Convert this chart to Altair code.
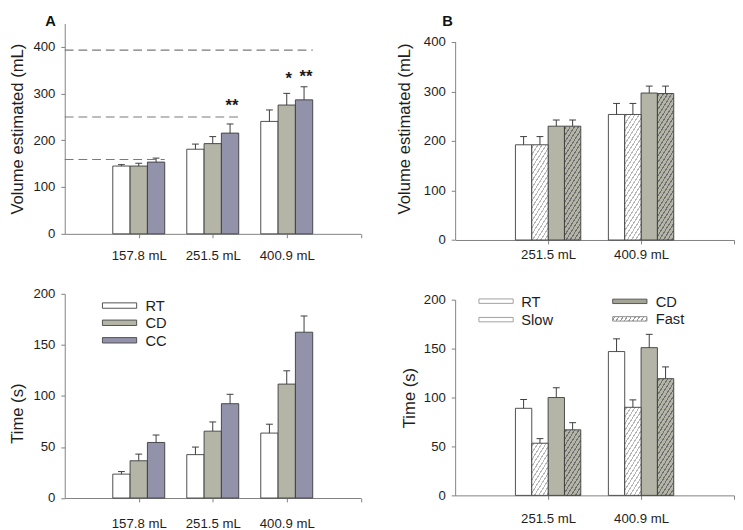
import math
import altair as alt
import pandas as pd

# ----------------------------- data -----------------------------
groups_A = ["157.8 mL", "251.5 mL", "400.9 mL"]
series_A = ["RT", "CD", "CC"]
vol_A = {"RT": [145.0, 181.0, 240.5], "CD": [145.0, 193.0, 275.5], "CC": [153.5, 215.5, 286.6]}
vol_A_err = {"RT": [3.0, 11.0, 24.5], "CD": [6.0, 15.0, 25.0], "CC": [8.5, 19.5, 28.0]}
ref_A = [159.0, 250.0, 393.0]
sig_text = ["**", "*", "**"]
sig_group = [2, 3, 3]
sig_series = ["CC", "CD", "CC"]
sig_y = [282.0, 340.5, 344.5]
time_A = {"RT": [23.4, 42.5, 63.6], "CD": [36.5, 65.5, 111.6], "CC": [54.4, 92.4, 162.4]}
time_A_err = {"RT": [2.5, 7.4, 8.7], "CD": [6.5, 9.0, 13.0], "CC": [7.3, 9.2, 15.9]}

groups_B = ["251.5 mL", "400.9 mL"]
series_B = ["RT", "Slow", "CD", "Fast"]
vol_B = {"RT": [192.4, 253.7], "Slow": [192.4, 253.7], "CD": [230.0, 297.0], "Fast": [230.0, 296.0]}
vol_B_err = {"RT": [16.6, 22.3], "Slow": [16.6, 22.3], "CD": [12.5, 14.0], "Fast": [12.5, 15.0]}
time_B = {"RT": [89.0, 147.0], "Slow": [53.3, 90.0], "CD": [100.0, 151.0], "Fast": [67.0, 119.3]}
time_B_err = {"RT": [9.0, 13.0], "Slow": [4.7, 7.6], "CD": [10.0, 13.6], "Fast": [7.3, 12.0]}

yticks_vol = [0, 100, 200, 300, 400]
yticks_time = [0, 50, 100, 150, 200]

# ----------------------------- style / layout -----------------------------
FONT = "Liberation Sans"
TXT = "#1e1e1e"
AXC = "#808080"
BAR_STROKE = "#3a3a3a"
ERR_C = "#3a3a3a"
CAP = 3.5

W_A, W_B = 302.5, 285.0
H_AT, H_AB, H_BB = 215.0, 208.7, 200.0
H_BT_AXIS = 202.3          # length of the B-top axis (0..400)
H_BT = H_BT_AXIS + 19.0    # plot box, top-aligned with panel A
XMAX_A, XMAX_B = 4, 3
BAR_A, BAR_B = 17.7, 16.7

fills_A = {"RT": "#ffffff", "CD": "#b4b5a7", "CC": "#9292aa"}
fills_B = {"RT": "#ffffff", "Slow": "#ffffff", "CD": "#b4b5a7", "Fast": "#b4b5a7"}
hatch_B = {"Slow": ("#ffffff", "#b8b8b8"), "Fast": ("#b4b5a7", "#707070")}


def hatch(w, h, bg, fg, period=3.6, lw=1.1, ang=58.0):
    a = math.radians(ang)
    gx, gy = w * math.sin(a), h * math.cos(a)
    P = gx + gy
    c = P / (gx * gx + gy * gy)
    stops = [{"offset": 0.0, "color": bg}]
    pos = 1.2
    while pos + lw < P:
        s0, s1 = round(pos / P, 5), round((pos + lw) / P, 5)
        stops += [{"offset": s0, "color": bg}, {"offset": s0, "color": fg},
                  {"offset": s1, "color": fg}, {"offset": s1, "color": bg}]
        pos += period
    stops.append({"offset": 1.0, "color": bg})
    return {"gradient": "linear", "x1": 0, "y1": 0, "x2": round(c * gx, 5),
            "y2": round(c * gy, 5), "stops": stops}


def xaxis(groups, xmax, pad):
    expr = "''"
    for i in range(len(groups), 0, -1):
        expr = f"datum.value == {i} ? '{groups[i-1]}' : ({expr})"
    return alt.Axis(values=list(range(1, xmax + 1)), labelExpr=expr, title="", grid=False,
                    tickSize=4, labelPadding=pad, labelFont=FONT, labelFontSize=13.5,
                    labelColor=TXT, domainColor=AXC, tickColor=AXC, labelOverlap=False,
                    labelFlush=False)


def yaxis(title, ticks, tpad, title_y=None, domain=True):
    kw = dict(values=ticks, title=title, grid=False, tickSize=4, labelPadding=6,
              titlePadding=tpad, titleFontSize=17, titleFontWeight="normal", titleFont=FONT,
              titleColor=TXT, labelFont=FONT, labelFontSize=13.5, labelColor=TXT,
              domainColor=AXC, tickColor=AXC, domain=domain)
    if title_y is not None:
        kw["titleY"] = title_y
    return alt.Axis(**kw)


def panel(groups, series, vals, errs, W, H, xmax, ymax, yticks, ytitle, tpad, xlpad,
          bar_px, fills, hatches, title_y=None, axis_top=None, pre=(), post=()):
    ppu = W / xmax
    bw = bar_px / ppu
    ky = H / ymax
    n = len(series)
    rows = []
    for gi, g in enumerate(groups, start=1):
        for si, s in enumerate(series):
            v = vals[s][gi - 1]
            e = errs[s][gi - 1]
            xc = gi + (si - (n - 1) / 2) * bw
            rows.append(dict(grp=g, series=s, value=v, top=v + e, zero=0.0,
                             x0=xc - bw / 2, x1=xc + bw / 2, xc=xc,
                             c0=xc - CAP / ppu, c1=xc + CAP / ppu))
    df = pd.DataFrame(rows)
    xs = alt.Scale(domain=[0, xmax], nice=False, zero=False)
    ys = alt.Scale(domain=[0, ymax], nice=False)
    xax = xaxis(groups, xmax, xlpad)
    yax = yaxis(ytitle, yticks, tpad, title_y, domain=axis_top is None)
    ctx = dict(xs=xs, ys=ys, xax=xax, yax=yax, bw=bw, ppu=ppu)
    layers = [f(ctx) for f in pre]
    if axis_top is not None:
        layers.append(
            alt.Chart(pd.DataFrame({"a": [0.0], "b": [float(axis_top)]})).mark_rule(
                color=AXC, strokeWidth=1).encode(
                x=alt.value(0.5), y=alt.Y("a:Q", scale=ys, axis=yax), y2="b:Q"))
    plain = df[~df["series"].isin(list(hatches))]
    layers.append(
        alt.Chart(plain).mark_rect(stroke=BAR_STROKE, strokeWidth=0.9).encode(
            x=alt.X("x0:Q", scale=xs, axis=xax),
            x2="x1:Q",
            y=alt.Y("zero:Q", scale=ys, axis=yax),
            y2="value:Q",
            fill=alt.Fill("series:N", scale=alt.Scale(domain=list(fills), range=list(fills.values())),
                          legend=None),
        )
    )
    hdf = df[df["series"].isin(list(hatches))]
    for i in range(len(hdf)):
        r = hdf.iloc[[i]]
        bg, fg = hatches[r["series"].iloc[0]]
        grad = hatch(bar_px, float(r["value"].iloc[0]) * ky, bg, fg)
        layers.append(
            alt.Chart(r).mark_rect(fill=grad, stroke=BAR_STROKE, strokeWidth=0.9).encode(
                x=alt.X("x0:Q", scale=xs, axis=xax), x2="x1:Q",
                y=alt.Y("zero:Q", scale=ys, axis=yax), y2="value:Q")
        )
    layers.append(
        alt.Chart(df).mark_rule(color=ERR_C, strokeWidth=1).encode(
            x=alt.X("xc:Q", scale=xs, axis=xax),
            y=alt.Y("value:Q", scale=ys, axis=yax), y2="top:Q")
    )
    layers.append(
        alt.Chart(df).mark_rule(color=ERR_C, strokeWidth=1).encode(
            x=alt.X("c0:Q", scale=xs, axis=xax), x2="c1:Q",
            y=alt.Y("top:Q", scale=ys, axis=yax))
    )
    layers += [f(ctx) for f in post]
    return alt.layer(*layers).properties(width=W, height=H)


def label_layer(text, x, y):
    def f(ctx):
        return alt.Chart(pd.DataFrame({"t": [text]})).mark_text(
            font=FONT, fontSize=15, fontWeight="bold", color="#111111", align="center",
            baseline="top").encode(text="t:N", x=alt.value(x), y=alt.value(y))
    return f


def ref_lines(ctx):
    bw = ctx["bw"]
    d = pd.DataFrame({"y": ref_A, "x0": [0.0] * len(ref_A),
                      "x1": [i + 1 + 1.5 * bw for i in range(len(ref_A))]})
    return alt.Chart(d).mark_rule(color="#7a7a7a", strokeWidth=1.2, strokeDash=[9, 5]).encode(
        x=alt.X("x0:Q", scale=ctx["xs"], axis=ctx["xax"]), x2="x1:Q",
        y=alt.Y("y:Q", scale=ctx["ys"], axis=ctx["yax"]))


def stars(ctx):
    n = len(series_A)
    bw = ctx["bw"]
    xc = [g + (series_A.index(s) - (n - 1) / 2) * bw for g, s in zip(sig_group, sig_series)]
    d = pd.DataFrame({"t": sig_text, "x": xc, "y": sig_y})
    return alt.Chart(d).mark_text(font=FONT, fontSize=17, fontWeight="bold", color="#1a1a1a",
                                  baseline="alphabetic", dy=9.4, dx=2).encode(
        x=alt.X("x:Q", scale=ctx["xs"], axis=ctx["xax"]),
        y=alt.Y("y:Q", scale=ctx["ys"], axis=ctx["yax"]), text="t:N")


def legend_item(name, x0, x1, yc, h, fill, stroke, lx):
    def f(ctx):
        d = pd.DataFrame({"t": [name]})
        sym = alt.Chart(d).mark_rect(fill=fill, stroke=stroke, strokeWidth=1).encode(
            x=alt.value(x0), x2=alt.value(x1), y=alt.value(yc - h / 2), y2=alt.value(yc + h / 2))
        txt = alt.Chart(d).mark_text(font=FONT, fontSize=15, color=TXT, align="left",
                                     baseline="middle").encode(
            text="t:N", x=alt.value(lx), y=alt.value(yc + 0.5))
        return alt.layer(sym, txt)
    return f


legend_A = [legend_item(s, 38.5, 73.5, yc, 5.5, fills_A[s], "#505050", 82.5)
            for s, yc in zip(series_A, [12.0, 29.6, 47.5])]

legend_B = [
    legend_item("RT", 24.3, 59.3, 1.5, 4.5, "#ffffff", "#a0a0a0", 67.6),
    legend_item("Slow", 24.3, 59.3, 20.4, 4.5, "#ffffff", "#a0a0a0", 67.6),
    legend_item("CD", 161.0, 196.0, 1.7, 4.5, "#a3a496", "#555555", 205.0),
    legend_item("Fast", 161.0, 196.0, 19.6, 4.5, hatch(35, 4.5, "#ffffff", "#9a9a9a"),
                "#8a8a8a", 205.0),
]

YMAX_BT = 400.0 * H_BT / H_BT_AXIS

A_top = panel(groups_A, series_A, vol_A, vol_A_err, W_A, H_AT, XMAX_A, 450, yticks_vol,
              "Volume estimated (mL)", 6.5, 11.5, BAR_A, fills_A, {},
              pre=[ref_lines], post=[stars, label_layer("A", -14.5, -9.7)])
A_bot = panel(groups_A, series_A, time_A, time_A_err, W_A, H_AB, XMAX_A, 200, yticks_time,
              "Time (s)", 6.5, 15.0, BAR_A, fills_A, {}, title_y=122, post=legend_A)
B_top = panel(groups_B, series_B, vol_B, vol_B_err, W_B, H_BT, XMAX_B, YMAX_BT, yticks_vol,
              "Volume estimated (mL)", 10, 4.2, BAR_B, fills_B, hatch_B, title_y=107.3,
              axis_top=max(yticks_vol), post=[label_layer("B", -7.7, -9.7)])
B_bot = panel(groups_B, series_B, time_B, time_B_err, W_B, H_BB, XMAX_B, 200, yticks_time,
              "Time (s)", 5, 12.5, BAR_B, fills_B, hatch_B, post=legend_B)

colA = alt.vconcat(A_top, A_bot, spacing=61.3, bounds="flush")
colB = alt.vconcat(B_top, B_bot, spacing=60.3, bounds="flush")
chart = (alt.hconcat(colA, colB, spacing=34.0)
         .properties(padding=0, background="#ffffff")
         .configure_view(strokeWidth=0))

chart.save("out.html", embed_options={"renderer": "svg", "actions": False})
